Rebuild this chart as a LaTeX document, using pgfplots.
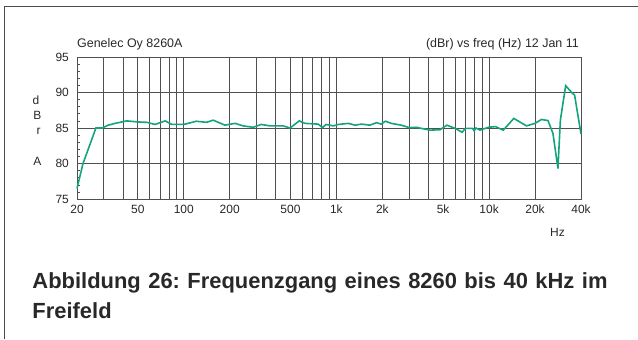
\documentclass[border=0pt]{standalone}
\usepackage{pgfplots}
\pgfplotsset{compat=1.18}
\usepackage{fontspec}
\setmainfont{Liberation Sans}
\definecolor{curve}{RGB}{20,163,125}
\definecolor{gridc}{RGB}{80,80,80}
\definecolor{txt}{RGB}{40,40,40}
\begin{document}
\frenchspacing
\begin{tikzpicture}[x=1bp,y=1bp]
\useasboundingbox (0,0) rectangle (638,339);
\draw[line width=1bp, black!70] (4,0) -- (4,332) -- (638,332);
\begin{axis}[
  at={(77bp,140bp)}, anchor=south west,
  scale only axis, width=504bp, height=142bp,
  xmode=log, xmin=20, xmax=40000, ymin=75, ymax=95,
  xtick={20,50,100,200,500,1000,2000,5000,10000,20000,40000},
  xticklabels={20,50,100,200,500,1k,2k,5k,10k,20k,40k},
  minor xtick={30,40,60,70,80,90,300,400,600,700,800,900,3000,4000,6000,7000,8000,9000},
  ytick={75,80,85,90,95},
  minor ytick={76,77,78,79,81,82,83,84,86,87,88,89,91,92,93,94},
  xmajorgrids, xminorgrids, ymajorgrids,
  major grid style={gridc, line width=0.8bp},
  minor grid style={gridc, line width=0.8bp},
  ytick pos=left, tick align=inside,
  major x tick style={draw=none}, minor x tick style={draw=none},
  major y tick style={gridc, line width=0.6bp},
  minor y tick style={gridc, line width=0.6bp},
  major tick length=3.5bp, minor tick length=3.5bp,
  axis line style={gridc, line width=0.8bp},
  /pgf/number format/assume math mode=true,
  tick label style={font=\fontsize{12}{14}\selectfont, text=txt},
  yticklabel style={inner sep=0pt, xshift=-8bp},
  xticklabel style={inner sep=0pt, yshift=-6bp},
  clip=false,
]
\addplot[curve, line width=1.6bp] coordinates {
(20,76.5) (21.9,80.0) (26.6,85.0) (29.3,85.0) (32,85.4) (35.5,85.65)
(42.3,86.0) (50.4,85.85) (57.2,85.8) (64.9,85.5) (75.6,86.0) (83.6,85.5)
(100,85.5) (121,85.95) (141,85.8) (156,86.1) (186,85.4) (217,85.65)
(245,85.3) (285,85.1) (322,85.5) (367,85.3) (448,85.3) (497,85.0)
(571,86.0) (622,85.65) (760,85.55) (812,85.05) (855,85.5) (955,85.3)
(1030,85.5) (1197,85.65) (1322,85.4) (1459,85.55) (1656,85.4) (1832,85.75)
(1960,85.55) (2094,85.95) (2288,85.65) (2660,85.4) (3000,85.05) (3330,85.1)
(3690,84.9) (4090,84.7) (4770,84.75) (5290,85.4) (5990,84.95) (6660,84.4)
(7000,84.95) (7800,84.95) (7990,84.6) (8200,85.0) (8720,84.7) (9900,85.1)
(11000,85.2) (12380,84.7) (14520,86.35) (17570,85.3) (20000,85.65) (22010,86.2)
(24300,86.05) (26200,84.25) (28250,79.3) (29300,86.1) (31740,90.96) (35100,89.9)
(36300,89.65) (40000,84.15)
};
\end{axis}
\begin{scope}[every node/.style={text=txt, inner sep=0pt}]
\node[anchor=base west, font=\fontsize{12.5}{14}\selectfont] at (77,291.3) {Genelec Oy 8260A};
\node[anchor=base east, font=\fontsize{12.5}{14}\selectfont] at (579,291.3) {(dBr) vs freq (Hz) 12 Jan 11};
\node[anchor=base, font=\fontsize{12}{14}\selectfont] at (36,235) {d};
\node[anchor=base, font=\fontsize{12}{14}\selectfont] at (37.3,219.7) {B};
\node[anchor=base, font=\fontsize{12}{14}\selectfont] at (38.5,204.7) {r};
\node[anchor=base, font=\fontsize{12}{14}\selectfont] at (37.3,174) {A};
\node[anchor=base, font=\fontsize{12}{14}\selectfont] at (557.5,103) {Hz};
\node[anchor=base west, font=\fontsize{22}{26}\selectfont\bfseries] at (32.3,50.7)
  {\makebox[575bp][s]{Abbildung 26: Frequenzgang eines 8260 bis 40 kHz im}};
\node[anchor=base west, font=\fontsize{22}{26}\selectfont\bfseries] at (32.3,20.7) {Freifeld};
\end{scope}
\end{tikzpicture}
\end{document}
